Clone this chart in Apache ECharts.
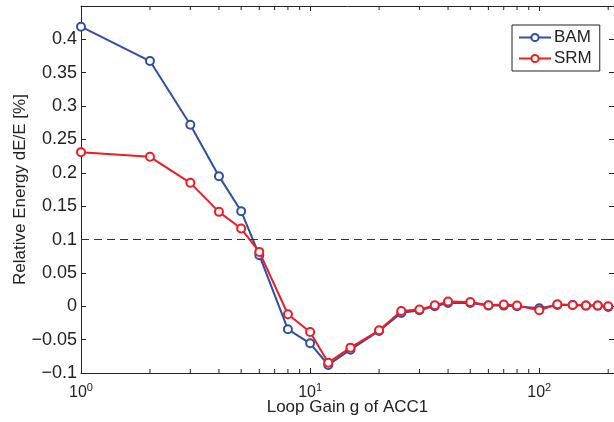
<!DOCTYPE html>
<html>
<head>
<meta charset="utf-8">
<script src="https://cdn.jsdelivr.net/npm/echarts@6/dist/echarts.min.js"></script>
<style>
  html, body { margin: 0; padding: 0; background: #fff; }
  #chart { width: 614px; height: 422px; }
</style>
</head>
<body>
<div id="chart"></div>
<script>
const gains = [1, 2, 3, 4, 5, 6, 8, 10, 12, 15, 20, 25, 30, 35, 40, 50, 60, 70, 80, 100, 120, 140, 160, 180, 200]
const bam = [0.419, 0.3675, 0.272, 0.195, 0.1425, 0.0765, -0.0345, -0.0555, -0.088, -0.065, -0.037, -0.010, -0.006, 0.0, 0.005, 0.005, 0.001, 0.001, 0.0, -0.003, 0.002, 0.002, 0.001, 0.001, -0.001]
const srm = [0.231, 0.224, 0.185, 0.1415, 0.1165, 0.0815, -0.012, -0.0385, -0.0845, -0.062, -0.036, -0.007, -0.005, 0.0015, 0.007, 0.0065, 0.0015, 0.0025, 0.001, -0.006, 0.003, 0.002, 0.001, 0.001, 0.0]
const minorTicks = [2, 3, 4, 5, 6, 7, 8, 9, 20, 30, 40, 50, 60, 70, 80, 90, 200]
const refLevel = 0.1

const X_MIN = 1, X_MAX = 212, Y_MIN = -0.1, Y_MAX = 0.45
const FONT = '"Liberation Sans", Arial, Helvetica, sans-serif'
const AXIS_COLOR = '#222'
const BLUE = '#2f4fa6'
const RED = '#ee1d25'

const chart = echarts.init(document.getElementById('chart'), null, { renderer: 'canvas' })

const pairs = (ys) => gains.map((g, i) => [g, ys[i]])

function xLabel(v) {
  const e = Math.log10(v)
  if (Math.abs(e - Math.round(e)) > 1e-6) return ''
  return '{b|10}{s|' + Math.round(e) + '}'
}

function yLabel(v) {
  if (v > 0.44) return ''
  const s = String(Math.round(v * 1000) / 1000)
  return s.replace('-', '\u2212')
}

const axisLine = { show: true, onZero: false, lineStyle: { color: AXIS_COLOR, width: 1 } }
const tick = { show: true, inside: true, length: 5, lineStyle: { color: AXIS_COLOR } }

const option = {
  backgroundColor: '#fff',
  textStyle: { fontFamily: FONT },
  animation: false,
  grid: { left: 81, right: 0, top: 6, bottom: 49, outerBoundsMode: 'none', containLabel: false },
  legend: {
    data: ['BAM', 'SRM'],
    orient: 'vertical',
    left: 512,
    top: 25,
    padding: [4, 8, 4, 6],
    itemGap: 4,
    itemWidth: 32,
    itemHeight: 9,
    backgroundColor: '#fff',
    borderColor: AXIS_COLOR,
    borderWidth: 1,
    textStyle: { fontFamily: FONT, fontSize: 17, color: '#222', padding: [0, 0, 0, -2] }
  },
  xAxis: [
    {
      type: 'log',
      logBase: 10,
      min: X_MIN,
      max: X_MAX,
      axisLine,
      axisTick: tick,
      splitLine: { show: false },
      axisLabel: {
        formatter: xLabel,
        margin: 4,
        showMaxLabel: false,
        rich: {
          b: { fontSize: 16, fontFamily: FONT, color: '#222', padding: [8, 0, 0, 0] },
          s: { fontSize: 11, fontFamily: FONT, color: '#222', padding: [0, 0, 3, 0] }
        }
      },
      name: 'Loop Gain g of ACC1',
      nameLocation: 'middle',
      nameGap: 26,
      nameMoveOverlap: false,
      nameTextStyle: { fontSize: 17, color: '#222', fontFamily: FONT }
    },
    {
      type: 'log',
      logBase: 10,
      min: X_MIN,
      max: X_MAX,
      position: 'top',
      axisLine,
      axisTick: tick,
      axisLabel: { show: false },
      splitLine: { show: false }
    }
  ],
  yAxis: [
    {
      type: 'value',
      min: Y_MIN,
      max: Y_MAX,
      interval: 0.05,
      axisLine,
      axisTick: tick,
      splitLine: { show: false },
      axisLabel: { formatter: yLabel, fontSize: 18, color: '#222', margin: 4, fontFamily: FONT },
      name: 'Relative Energy dE/E [%]',
      nameLocation: 'middle',
      nameGap: 52,
      nameMoveOverlap: false,
      nameTextStyle: { fontSize: 17, color: '#222', fontFamily: FONT }
    },
    {
      type: 'value',
      min: Y_MIN,
      max: Y_MAX,
      interval: 0.05,
      position: 'right',
      axisLine,
      axisTick: tick,
      axisLabel: { show: false },
      splitLine: { show: false }
    }
  ],
  series: [
    {
      name: 'minor',
      type: 'custom',
      silent: true,
      clip: false,
      data: minorTicks.map(v => [v]),
      renderItem: (params, api) => {
        const v = api.value(0)
        const bot = api.coord([v, Y_MIN])
        const top = api.coord([v, Y_MAX])
        const style = { stroke: AXIS_COLOR, lineWidth: 1 }
        return {
          type: 'group',
          children: [
            { type: 'line', shape: { x1: bot[0], y1: bot[1], x2: bot[0], y2: bot[1] - 4 }, style },
            { type: 'line', shape: { x1: top[0], y1: top[1], x2: top[0], y2: top[1] + 4 }, style }
          ]
        }
      },
      z: 1
    },
    {
      name: 'BAM',
      type: 'line',
      data: pairs(bam),
      symbol: 'emptyCircle',
      symbolSize: 8,
      color: BLUE,
      lineStyle: { width: 2, color: BLUE },
      itemStyle: { color: BLUE, borderWidth: 2 },
      z: 3,
      markLine: {
        silent: true,
        symbol: 'none',
        label: { show: false },
        lineStyle: { color: '#333', width: 1, type: [8, 5] },
        data: [{ yAxis: refLevel }]
      }
    },
    {
      name: 'SRM',
      type: 'line',
      data: pairs(srm),
      symbol: 'emptyCircle',
      symbolSize: 8,
      color: RED,
      lineStyle: { width: 2, color: RED },
      itemStyle: { color: RED, borderWidth: 2 },
      z: 4
    }
  ]
}

chart.setOption(option)
</script>
</body>
</html>
